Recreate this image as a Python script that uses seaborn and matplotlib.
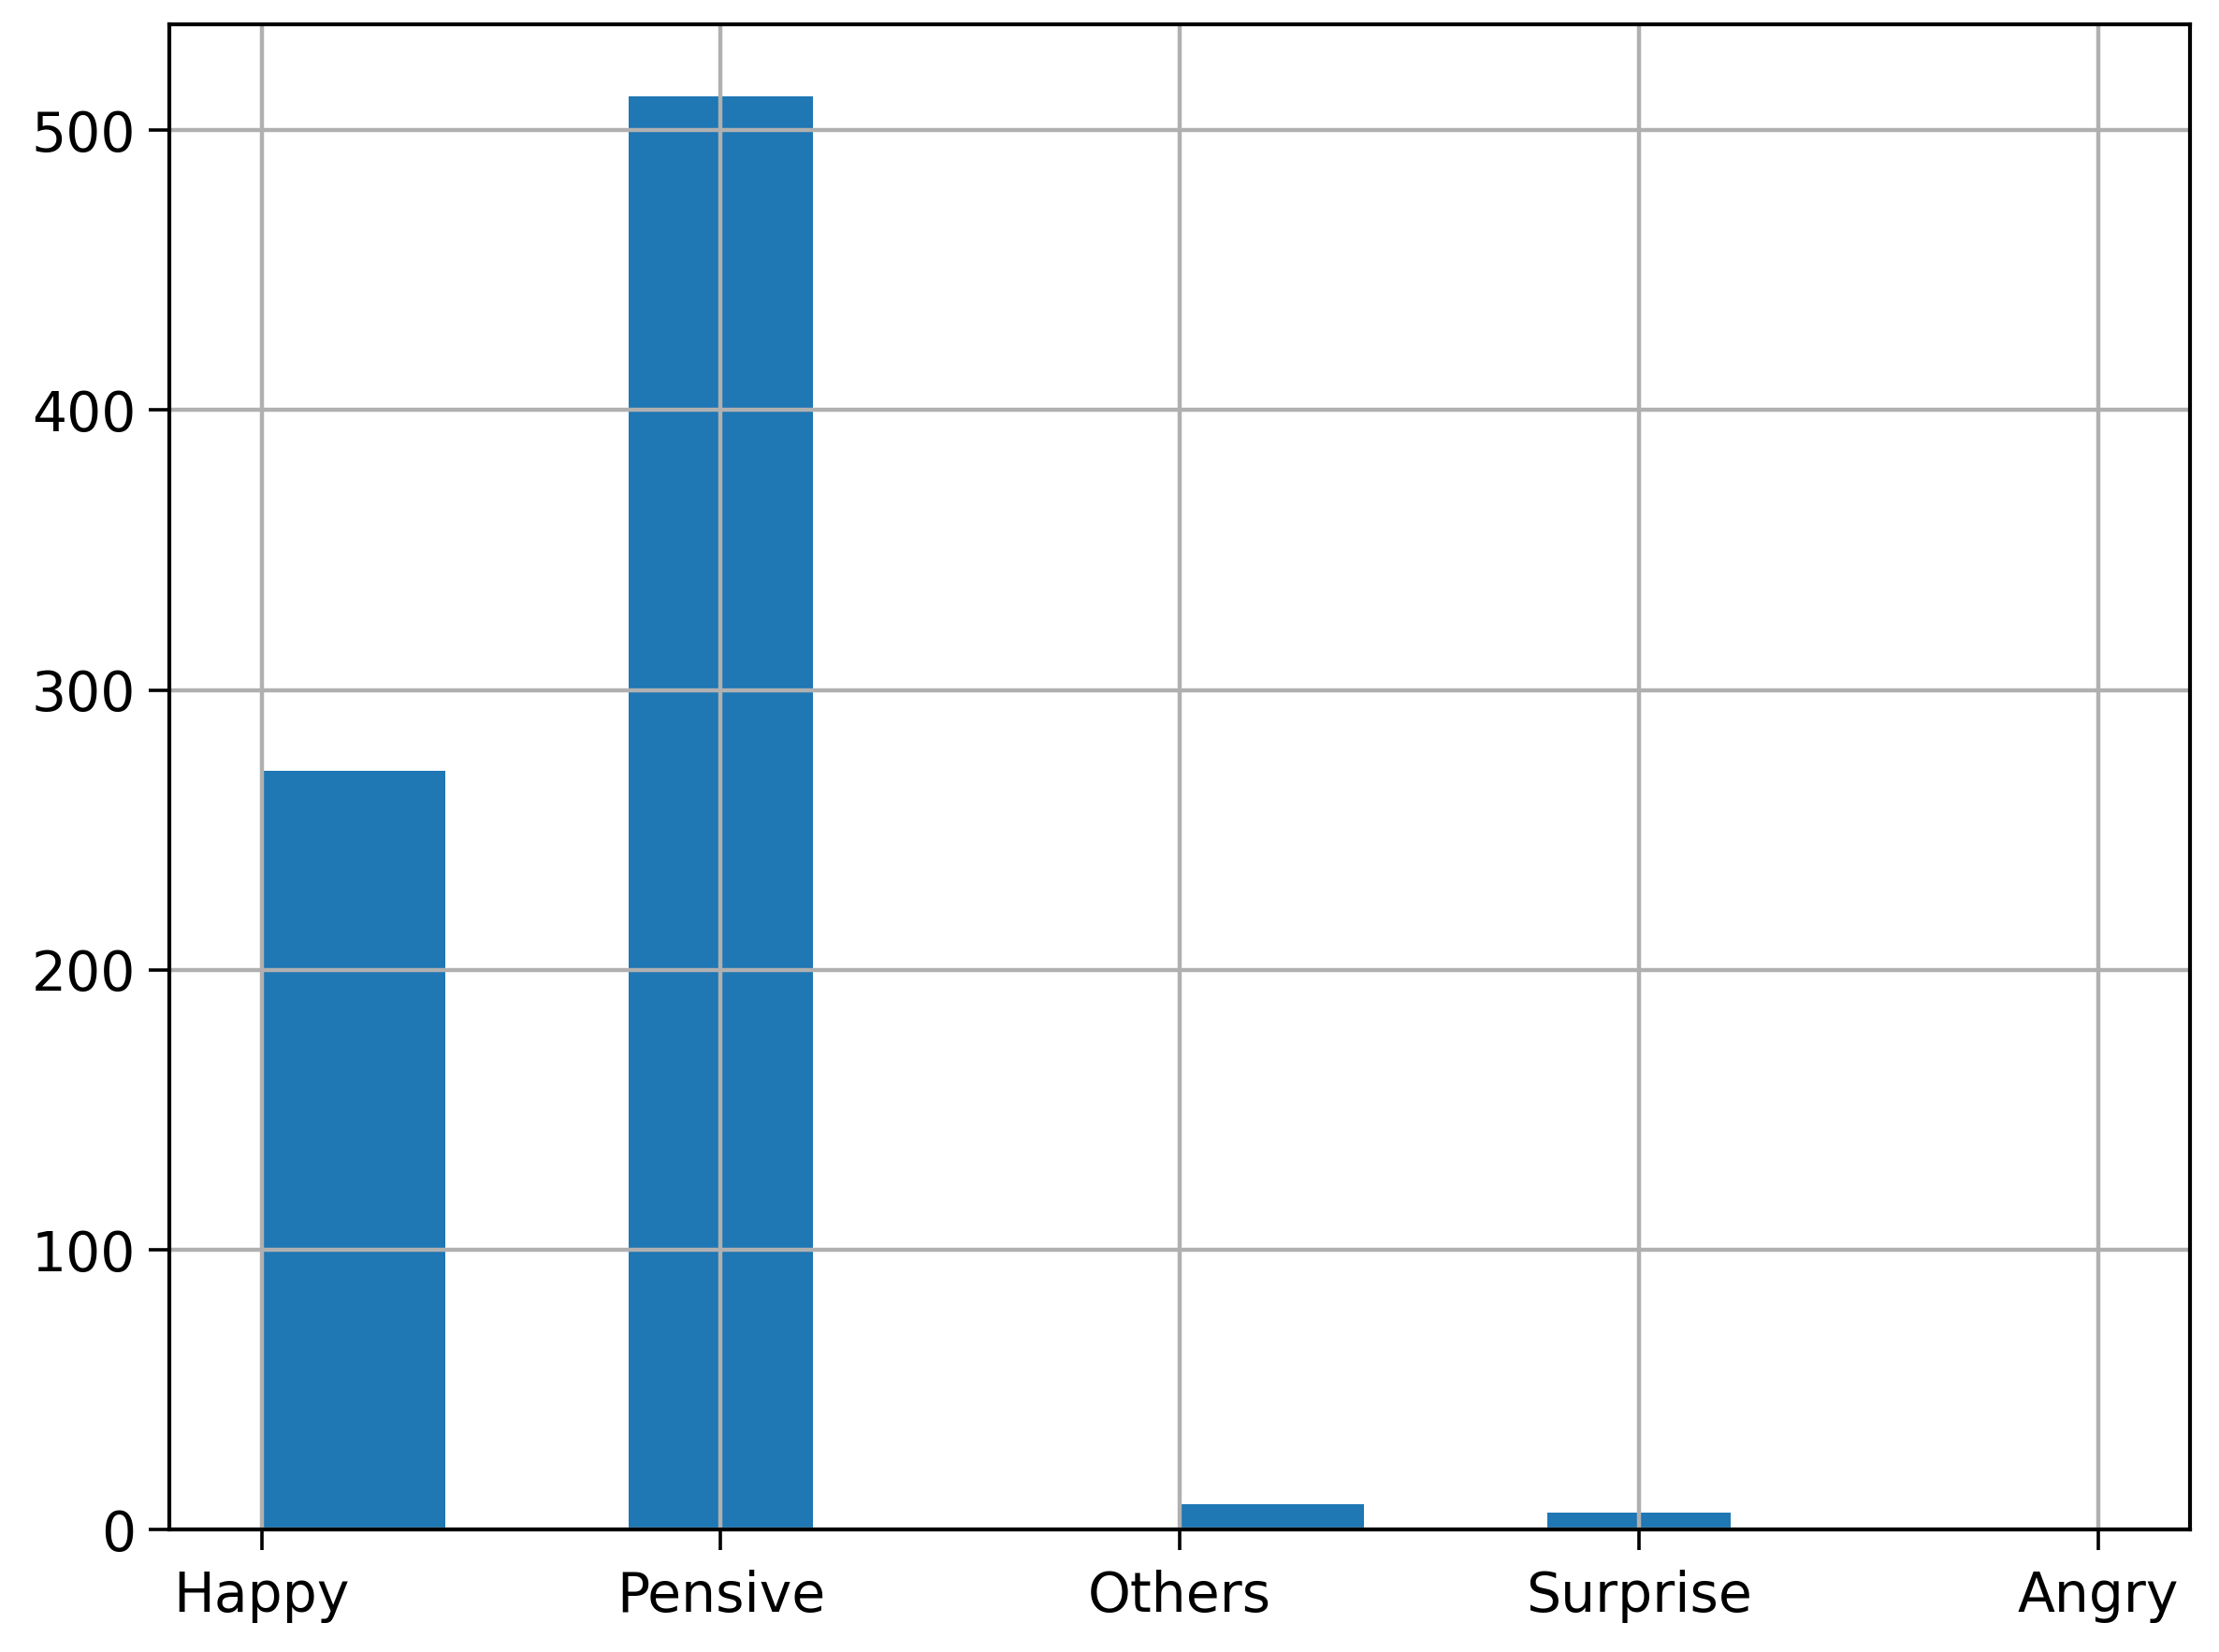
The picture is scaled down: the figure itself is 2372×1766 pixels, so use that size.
import matplotlib
matplotlib.use("Agg")
import matplotlib.pyplot as plt
import numpy as np
import seaborn as sns

# emotion categories and their counts
categories = ["Happy", "Pensive", "Others", "Surprise", "Angry"]
counts = [271, 512, 9, 6, 0]


def main() -> None:
    codes = np.arange(len(categories))

    fig = plt.figure(figsize=(23.72, 17.66), dpi=100)
    ax = fig.add_axes([0.0765, 0.074, 0.9105, 0.911])

    sns.histplot(
        x=codes,
        weights=counts,
        bins=10,
        binrange=(0, len(categories) - 1),
        color="#1f77b4",
        alpha=1,
        linewidth=0,
        ax=ax,
    )

    ax.set_xticks(codes)
    ax.set_xticklabels(categories)
    ax.set_yticks([0, 100, 200, 300, 400, 500])
    ax.set_xlim(-0.2, 4.2)
    ax.set_ylim(0, max(counts) * 1.05)
    ax.set_xlabel("")
    ax.set_ylabel("")

    ax.grid(True, color="#b0b0b0", linewidth=3.2)
    ax.tick_params(labelsize=42, length=16, width=2.6, pad=10)
    ax.tick_params(axis="x", pad=15)
    for spine in ax.spines.values():
        spine.set_linewidth(3)

    fig.savefig("out.png", dpi=100)


if __name__ == "__main__":
    main()
